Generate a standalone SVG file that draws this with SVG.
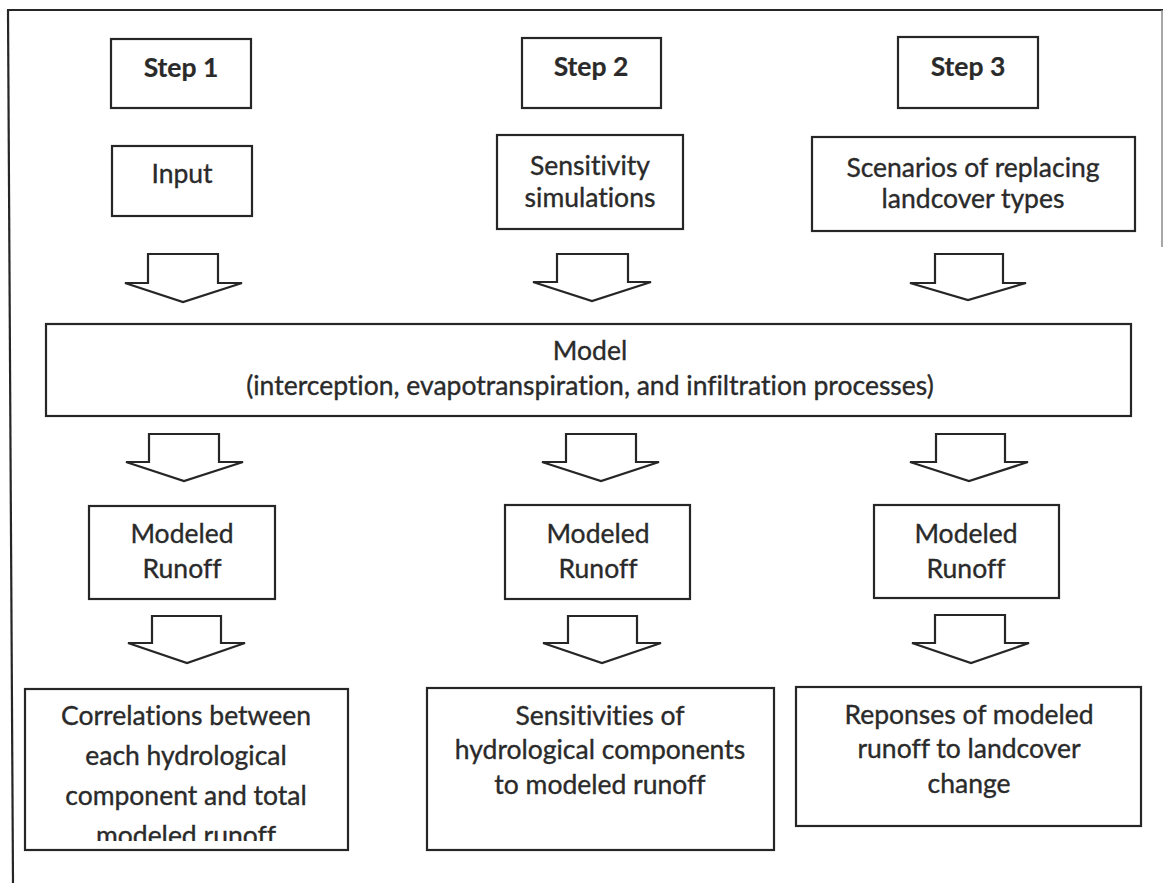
<svg xmlns="http://www.w3.org/2000/svg" width="1163" height="883" viewBox="0 0 1163 883">
<defs>
<style>
.box{fill:#fff;stroke:#262626;stroke-width:2.2}
.arr{fill:#fff;stroke:#262626;stroke-width:2.2;stroke-linejoin:miter}
.t{font-family:Lato,"Open Sans","Liberation Sans",sans-serif;font-size:26.5px;fill:#2a2a2a;stroke:#2a2a2a;stroke-width:0.35;text-anchor:middle;font-variant-ligatures:none;font-feature-settings:"liga" 0,"dlig" 0}
.b{font-weight:bold;stroke-width:0.2}
.frame{stroke:#262626;stroke-width:2.2;fill:none}
</style>
<clipPath id="corrClip"><rect x="25" y="689" width="323" height="152"/></clipPath>
</defs>
<rect width="1163" height="883" fill="#fff"/>
<g id="frame">
<line class="frame" x1="7" y1="10" x2="1163" y2="10"/>
<line class="frame" x1="8" y1="10" x2="13" y2="883"/>
<line x1="1162" y1="10" x2="1162" y2="247" stroke="#8a8a8a" stroke-width="1.5"/>
</g>
<g id="connectors">
<polygon class="arr" points="148,254 218,254 218,283 242,283 183,302 125,283 148,283"/>
<polygon class="arr" points="557,254 628,254 628,282 651,282 592,301 533,282 557,282"/>
<polygon class="arr" points="935,254 1003,254 1003,283 1026,283 968,300 910,283 935,283"/>
<polygon class="arr" points="149,434 219,434 219,462 243,462 184,481 126,462 149,462"/>
<polygon class="arr" points="566,434 636,434 636,462 659,462 601,481 542,462 566,462"/>
<polygon class="arr" points="936,434 1005,434 1005,462 1028,462 969,481 910,462 936,462"/>
<polygon class="arr" points="152,616 221,616 221,643 245,643 187,663 128,643 152,643"/>
<polygon class="arr" points="568,616 637,616 637,643 661,643 602,663 543,643 568,643"/>
<polygon class="arr" points="935,615 1005,615 1005,643 1029,643 971,663 912,643 935,643"/>
</g>
<g id="step1"><rect class="box" x="111" y="39" width="140" height="69"/><text class="t b" x="181" y="77">Step 1</text></g>
<g id="input"><rect class="box" x="112" y="146" width="140" height="70"/><text class="t" x="182" y="183">Input</text></g>
<g id="step2"><rect class="box" x="522" y="38" width="139" height="70"/><text class="t b" x="591" y="76">Step 2</text></g>
<g id="sensitivity"><rect class="box" x="497" y="135" width="186" height="94"/><text class="t" x="590" y="175">Sensitivity</text><text class="t" x="590" y="207">simulations</text></g>
<g id="step3"><rect class="box" x="898" y="37" width="140" height="71"/><text class="t b" x="968" y="76">Step 3</text></g>
<g id="scenarios"><rect class="box" x="812" y="137" width="323" height="94"/><text class="t" x="973" y="177">Scenarios of replacing</text><text class="t" x="973" y="208">landcover types</text></g>
<g id="model"><rect class="box" x="46" y="324" width="1085" height="92"/><text class="t" x="590" y="360">Model</text><text class="t" x="590" y="395">(interception, evapotranspiration, and infiltration processes)</text></g>
<g id="runoff1"><rect class="box" x="89" y="506" width="186" height="93"/><text class="t" x="182" y="543">Modeled</text><text class="t" x="182" y="578">Runoff</text></g>
<g id="runoff2"><rect class="box" x="505" y="505" width="185" height="94"/><text class="t" x="598" y="543">Modeled</text><text class="t" x="598" y="578">Runoff</text></g>
<g id="runoff3"><rect class="box" x="874" y="505" width="185" height="93"/><text class="t" x="966" y="543">Modeled</text><text class="t" x="966" y="578">Runoff</text></g>
<g id="correlations"><rect class="box" x="25" y="689" width="323" height="161"/>
<g clip-path="url(#corrClip)"><text class="t" x="186" y="725">Correlations between</text><text class="t" x="186" y="765">each hydrological</text><text class="t" x="186" y="805">component and total</text><text class="t" x="186" y="845">modeled runoff</text></g></g>
<g id="sensitivities"><rect class="box" x="427" y="688" width="347" height="162"/><text class="t" x="600" y="725">Sensitivities of</text><text class="t" x="600" y="759">hydrological components</text><text class="t" x="600" y="794">to modeled runoff</text></g>
<g id="responses"><rect class="box" x="796" y="687" width="345" height="139"/><text class="t" x="969" y="724">Reponses of modeled</text><text class="t" x="969" y="758">runoff to landcover</text><text class="t" x="969" y="793">change</text></g>
</svg>
